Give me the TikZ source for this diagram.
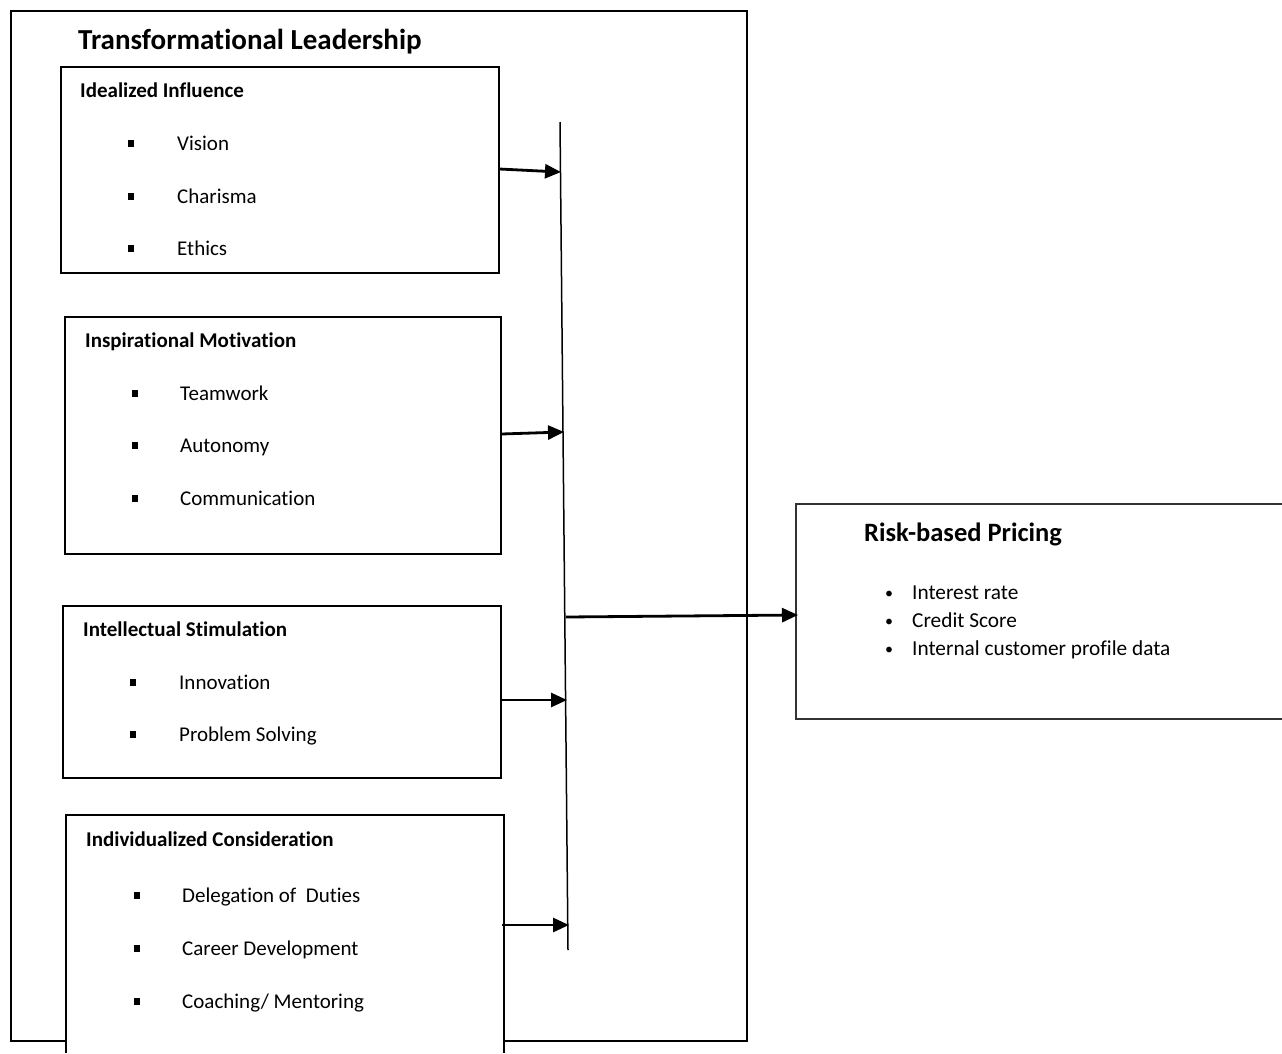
\documentclass[tikz,border=0pt]{standalone}
\usepackage{fontspec}
\setmainfont{Carlito}[Ligatures=NoCommon]
\usetikzlibrary{arrows.meta}
\tikzset{
  box/.style={draw=black, line width=1.5pt, fill=white},
  ttl/.style={anchor=base west, inner sep=0pt, font=\bfseries\fontsize{29}{32}\selectfont},
  head/.style={anchor=base west, inner sep=0pt, font=\bfseries\fontsize{21}{24}\selectfont},
  item/.style={anchor=base west, inner sep=0pt, font=\fontsize{21}{24}\selectfont},
  ritem/.style={anchor=base west, inner sep=0pt, font=\fontsize{21.3}{24}\selectfont},
  rbul/.style={anchor=base, inner sep=0pt, font=\fontsize{16}{24}\selectfont},
  sq/.style={fill=black, inner sep=0pt, minimum width=6.5pt, minimum height=7pt},
  arr/.style={line width=2.8pt, -{Triangle[length=16pt,width=14pt]}, shorten >=-1pt},
}
\begin{document}
\begin{tikzpicture}[x=1pt,y=-1pt]
\useasboundingbox (0,0) rectangle (1282,1053);
% outer box
\node[box, fill=none, anchor=north west, minimum width=736pt, minimum height=1030pt] (outer) at (10,10) {};
\node[ttl] (tl) at (78,49) {Transformational Leadership};
% box 1
\node[box, anchor=north west, minimum width=438pt, minimum height=206pt] (b1) at (60,66) {};
\node[head] (h1) at (80,97) {Idealized Influence};
\node[sq] at (131,143) {}; \node[item] at (177,150) {Vision};
\node[sq] at (131,196) {}; \node[item] at (177,203) {Charisma};
\node[sq] at (131,248) {}; \node[item] at (177,255) {Ethics};
% box 2
\node[box, anchor=north west, minimum width=436pt, minimum height=237pt] (b2) at (64,316) {};
\node[head] (h2) at (85,347) {Inspirational Motivation};
\node[sq] at (135,393) {}; \node[item] at (180,400) {Teamwork};
\node[sq] at (135,445) {}; \node[item] at (180,452) {Autonomy};
\node[sq] at (135,498) {}; \node[item] at (180,505) {Communication};
% box 3
\node[box, anchor=north west, minimum width=438pt, minimum height=172pt] (b3) at (62,605) {};
\node[head] (h3) at (83,636) {Intellectual Stimulation};
\node[sq] at (133,682) {}; \node[item] at (179,689) {Innovation};
\node[sq] at (133,734) {}; \node[item] at (179,741) {Problem Solving};
% box 4 (runs off the bottom)
\fill[white] (66,815) rectangle (504,1053);
\draw[line width=1.5pt] (66,1053) -- (66,815) -- (504,815) -- (504,1053);
\coordinate (b4e) at (502,925);
\node[head] (h4) at (86,846) {Individualized Consideration};
\node[sq] at (137,895) {}; \node[item] at (182,902) {Delegation of\ \ Duties};
\node[sq] at (137,948) {}; \node[item] at (182,955) {Career Development};
\node[sq] at (137,1001) {}; \node[item] at (182,1008) {Coaching/ Mentoring};
% vertical collector line
\coordinate (vtop) at (560,122);
\coordinate (vbot) at (568,950);
\draw[line width=1.5pt] (vtop) -- (vbot);
\coordinate (e1) at (560,172);
\coordinate (e2) at (563,432);
\coordinate (e3) at (566,700);
\coordinate (e4) at (568,925);
\coordinate (m0) at (566,617);
\draw[arr] (b1.east |- 0,169) -- (e1);
\draw[arr] (b2.east |- 0,434) -- (e2);
\draw[arr] (b3.east |- 0,700) -- (e3);
\draw[arr] (b4e) -- (e4);
% risk box (runs off the right)
\fill[white] (796,504) rectangle (1282,719);
\draw[line width=1.5pt, draw=black!80] (1282,504) -- (796,504) -- (796,719) -- (1282,719);
\coordinate (rw) at (797,615);
\draw[arr] (m0) -- (rw);
\node[anchor=base west, inner sep=0pt, font=\bfseries\fontsize{26.5}{30}\selectfont] (rt) at (864,541) {Risk-based Pricing};
\node[rbul] at (889,598) {•}; \node[ritem] at (912,599) {Interest rate};
\node[rbul] at (889,626) {•}; \node[ritem] at (912,627) {Credit Score};
\node[rbul] at (889,654) {•}; \node[ritem] at (912,655) {Internal customer profile data};
\end{tikzpicture}
\end{document}
